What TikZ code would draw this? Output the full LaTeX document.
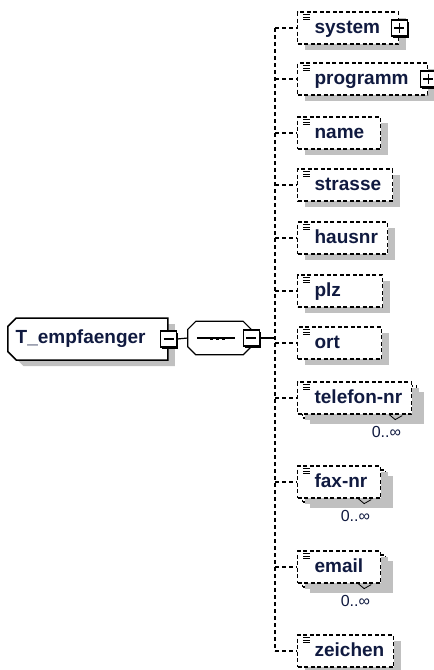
\documentclass[tikz,border=0pt]{standalone}
\usepackage{fontspec}
\setmainfont{Liberation Sans}
\usetikzlibrary{positioning}
\usetikzlibrary{shadows}
\usetikzlibrary{shapes.misc}

\definecolor{navy}{RGB}{16,26,64}
\definecolor{shade}{RGB}{192,192,192}
\newcommand{\elemfont}{\bfseries\fontsize{19}{22}\selectfont}
\newcommand{\multfont}{\fontsize{16}{18}\selectfont}
\newcommand{\seqoutline}{([shift={(8,0)}]seq.north west) -- ([shift={(-8,0)}]seq.north east)
    -- ([shift={(0,8)}]seq.north east) -- ([shift={(0,-8)}]seq.south east)
    -- ([shift={(-8,0)}]seq.south east) -- ([shift={(8,0)}]seq.south west)
    -- ([shift={(0,-8)}]seq.south west) -- ([shift={(0,8)}]seq.north west) -- cycle}

\tikzset{
    shade box/.style={drop shadow={shadow xshift=7pt, shadow yshift=-6pt, fill=shade, opacity=1}},
    elem/.style={draw, line width=1.2pt, dash pattern=on 4pt off 2.5pt, fill=white,
        anchor=west, minimum height=32pt, inner xsep=0pt, inner ysep=0pt,
        text width=#1pt, align=left, text height=14pt, text depth=4pt,
        font=\elemfont, text=navy, shade box, execute at begin node={\hspace*{17pt}}},
    rep/.style={drop shadow={shadow xshift=12pt, shadow yshift=-10pt, fill=shade, opacity=1},
        copy shadow={shadow xshift=5pt, shadow yshift=-4pt, draw=black, fill=white, opacity=1,
        line width=1.2pt, dash pattern=on 4pt off 2.5pt}, elem=#1},
    ctype/.style={chamfered rectangle, chamfered rectangle corners={north west,south west},
        chamfered rectangle xsep=5pt, draw, line width=1.5pt, fill=white, anchor=west,
        minimum width=160pt, minimum height=42pt, text width=144pt, inner xsep=3pt,
        align=left, font=\elemfont, text=navy, shade box},
    seqbox/.style={minimum width=63pt, minimum height=33pt, inner sep=0pt},
    pmbox/.style={draw, line width=1.2pt, fill=white, minimum size=16pt, inner sep=0pt,
        drop shadow={shadow xshift=1.5pt, shadow yshift=-1.5pt, fill=black, opacity=1}},
    minusbox/.style={pmbox, path picture={\draw[line width=1.2pt]
        ([xshift=-5pt]path picture bounding box.center) -- ([xshift=5pt]path picture bounding box.center);}},
    plusbox/.style={pmbox, path picture={\draw[line width=1.2pt]
        ([xshift=-5pt]path picture bounding box.center) -- ([xshift=5pt]path picture bounding box.center)
        ([yshift=-5pt]path picture bounding box.center) -- ([yshift=5pt]path picture bounding box.center);}},
    link/.style={line width=1.2pt},
    branch/.style={line width=1.3pt, dash pattern=on 4pt off 3pt},
    icon/.style={line width=0.8pt},
    mult/.style={font=\multfont, text=navy, inner sep=0pt}
}

\begin{document}
\begin{tikzpicture}[x=1pt, y=-1pt]
    \useasboundingbox (0,0) rectangle (434,670);
    \node[ctype] (tEmpf) at (7,339) {T\_empfaenger};
    \node[minusbox] (tEmpfm) at (tEmpf.east) {};
    \node[seqbox] (seq) at (219.5,338) {};
    \begin{scope}[shift={(7,6)}]
        \fill[shade] \seqoutline;
    \end{scope}
    \draw[link, fill=white] \seqoutline;
    \draw[link] ([xshift=9pt]seq.west) -- ([xshift=-16pt]seq.east);
    \foreach \dx in {-10,-4,2}
        \fill ([shift={(\dx,-1.5)}]seq.center) rectangle ++(3.5,3);
    \node[minusbox] (seqm) at (seq.east) {};
    \draw[link] (tEmpfm.east) -- (seq.west);
    \coordinate (trunk) at (275,338);
    \draw[link] (seqm.east) -- (trunk);

    \node[elem=101] (system) at (297,28) {system};
    \node[plusbox] (systemp) at (system.east) {};
    \node[elem=130] (programm) at (297,79) {programm};
    \node[plusbox] (programmp) at (programm.east) {};
    \node[elem=83] (name) at (297,133) {name};
    \node[elem=95] (strasse) at (297,185) {strasse};
    \node[elem=90] (hausnr) at (297,238) {hausnr};
    \node[elem=85] (plz) at (297,291) {plz};
    \node[elem=84] (ort) at (297,343) {ort};
    \node[rep=114] (telefon) at (297,398) {telefon-nr};
    \node[rep=83] (fax) at (297,482) {fax-nr};
    \node[rep=83] (email) at (297,567) {email};
    \node[elem=96] (zeichen) at (297,651) {zeichen};

    \foreach \n in {system,programm,name,strasse,hausnr,plz,ort,telefon,fax,email,zeichen} {
        \draw[branch] (trunk |- \n.west) -- (\n.west);
        \draw[icon] ([shift={(6,3)}]\n.north west) -- ++(7,0)
            ([shift={(6,5.5)}]\n.north west) -- ++(7,0)
            ([shift={(6,8)}]\n.north west) -- ++(7,0);
    }
    \draw[branch] (trunk |- system.west) -- (trunk |- zeichen.west);

    \foreach \n in {telefon,fax,email} {
        \node[mult, below left=12pt and 11pt of \n.south east] (\n-mult) {0..∞};
        \draw[icon] ([xshift=-23pt]\n.south east) -- ++(6,5) -- ++(7,-4);
    }
\end{tikzpicture}
\end{document}
